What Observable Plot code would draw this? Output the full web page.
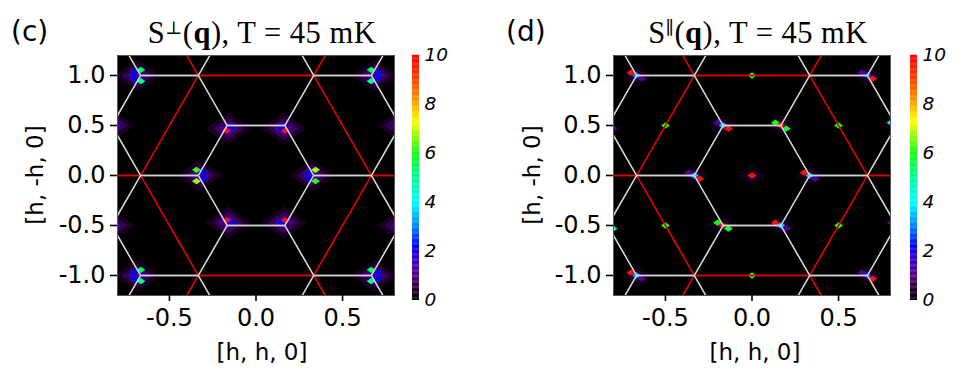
<!DOCTYPE html>
<html><head><meta charset="utf-8">
<script src="https://cdn.jsdelivr.net/npm/d3@7"></script>
<script src="https://cdn.jsdelivr.net/npm/@observablehq/plot@0.6"></script>
<style>
body{margin:0;background:#fff;}
#fig{position:relative;width:973px;height:386px;overflow:hidden;}
#fig > *{position:absolute;}
</style></head>
<body><div id="fig"></div>
<script>
// ---------- data ----------
const xTicks = [-0.5, 0, 0.5];
const yTicks = [-1, -0.5, 0, 0.5, 1];
const cbTicks = [0, 2, 4, 6, 8, 10];

// colour map stops (value -> colour)
const cmapStops  = [0, 0.5, 1, 1.6, 2.2, 3, 4, 5, 6, 6.8, 7.3, 8.2, 9, 10];
const cmapColors = ["#000000","#2a0035","#5a0080","#3c00c8","#0000ff","#0080ff","#00ffff","#00ff90","#10ff10","#a0ff00","#ffff00","#ff9000","#ff4000","#ff0000"];

// Brillouin-zone honeycombs
const smallHexCx = [0, 0, 0, -0.5, 0.5, -0.5, 0.5, -0.5, 0.5, -0.5, 0.5, -1, 1, -1, 1, -1, 1];
const smallHexCy = [0, 1, -1, 0.5, 0.5, -0.5, -0.5, 1.5, 1.5, -1.5, -1.5, 0, 0, 1, 1, -1, -1];
const smallHexDx = [1/3, 1/6, -1/6, -1/3, -1/6, 1/6];
const smallHexDy = [0, 0.5, 0.5, 0, -0.5, -0.5];
const largeHexCx = [0, 1, -1, 1, -1, 0, 0];
const largeHexCy = [0, 1, 1, -1, -1, 2, -2];
const largeHexDx = [2/3, 1/3, -1/3, -2/3, -1/3, 1/3];
const largeHexDy = [0, 1, 1, 0, -1, -1];

// panel (c): S_perp(q) peaks
const cH = [-0.665,-0.705,-0.705,-0.665, 0.665,0.705,0.705,0.665, -0.665,-0.705,-0.705,-0.665, 0.665,0.705,0.705,0.665,
            -0.344,-0.306,-0.306,-0.344, 0.344,0.306,0.306,0.344,
            -0.144,-0.17,0.144,0.17, -0.144,-0.17,0.144,0.17];
const cK = [1.057,1.033,0.967,0.943, 1.057,1.033,0.967,0.943, -0.943,-0.967,-1.033,-1.057, -0.943,-0.967,-1.033,-1.057,
            0.057,0.033,-0.033,-0.057, 0.057,0.033,-0.033,-0.057,
            0.477,0.448,0.477,0.448, -0.477,-0.448,-0.477,-0.448];
const cI = [5.4,2.2,2.2,5.0, 5.4,2.2,2.2,5.0, 5.4,2.2,2.2,5.0, 5.4,2.2,2.2,5.0,
            6.2,2.2,2.2,6.8, 6.8,2.2,2.2,6.2,
            2.2,9.8,2.2,9.8, 2.2,9.8,2.2,9.8];
// diffuse halos (c)
const cHaloH = [-0.16,0.16,-0.16,0.16,-0.325,0.325,-0.685,0.685,-0.685,0.685,-0.833,0.833,-0.833,0.833];
const cHaloK = [0.47,0.47,-0.47,-0.47,0,0,1,1,-1,-1,0.5,0.5,-0.5,-0.5];

// panel (d): S_par(q) peaks
const dH = [-0.699,-0.667,-0.636, 0.635,0.667,0.698, -0.699,-0.667,-0.636, 0.635,0.667,0.698,
            -0.365,-0.333,-0.302, 0.301,0.333,0.364,
            -0.199,-0.167,-0.136, 0.135,0.167,0.198, -0.199,-0.167,-0.136, 0.135,0.167,0.198,
            0, 0, 0, -0.5, 0.5, -0.5, 0.5,
            -0.803,-0.803,0.803,0.803];
const dK = [1.028,1.0,0.968, 1.028,1.0,0.968, -0.972,-1.0,-1.032, -0.972,-1.0,-1.032,
            0.028,0,-0.032, 0.028,0,-0.032,
            0.528,0.5,0.468, 0.528,0.5,0.468, -0.472,-0.5,-0.532, -0.472,-0.5,-0.532,
            0, 1, -1, 0.5, 0.5, -0.5, -0.5,
            0.472,-0.532,0.528,-0.472];
const dI = [9.8,3.0,1.2, 1.2,2.6,9.8, 9.8,3.2,1.2, 1.2,2.6,9.8,
            1.2,3.4,9.8, 9.8,3.4,1.2,
            1.2,3.4,9.8, 6.0,9.8,5.8, 6.0,9.8,5.8, 9.8,3.4,1.2,
            9.8, 5.8, 5.8, 6.0, 6.0, 6.0, 6.0,
            1.2,4.2,4.2,1.2];
const dHaloH = [-0.667,0.667,-0.667,0.667,-0.333,0.333,-0.167,0.167,-0.167,0.167,0];
const dHaloK = [1,1,-1,-1,0,0,0.5,0.5,-0.5,-0.5,0];

// ---------- helpers ----------
const hexLines = (cx, cy, dx, dy) => cx.flatMap((x0, i) =>
  [...dx, dx[0]].map((d, j) => ({id: i, x: x0 + d, y: cy[i] + [...dy, dy[0]][j]})));
const smallHex = hexLines(smallHexCx, smallHexCy, smallHexDx, smallHexDy);
const largeHex = hexLines(largeHexCx, largeHexCy, largeHexDx, largeHexDy);
const zip = (h, k, v) => h.map((x, i) => ({h: x, k: k[i], v: v ? v[i] : 0}));

const spot = {draw(ctx, size) {
  const s = Math.sqrt(size / Math.PI);
  ctx.moveTo(-s * 1.2, 0); ctx.lineTo(0, -s * 0.85); ctx.lineTo(s * 1.2, 0); ctx.lineTo(0, s * 0.85); ctx.closePath();
}};
const colorScale = {type: "linear", domain: cmapStops, range: cmapColors, interpolate: "rgb"};
const fmt = d => d.toFixed(1);
const fontFam = "'DejaVu Sans', 'Liberation Sans', sans-serif";

function panel(spots, halos, haloStrength, marginLeft, marginRight) {
  const haloMarks = haloStrength.map(([r, v, op]) =>
    Plot.dot(halos, {x: "h", y: "k", r, fill: () => v, fillOpacity: op, symbol: spot, clip: true}));
  return Plot.plot({
    width: marginLeft + 277 + marginRight, height: 386,
    marginLeft, marginRight, marginTop: 55, marginBottom: 91,
    x: {domain: [-0.8, 0.8]},
    y: {domain: [-1.2, 1.2]},
    color: colorScale,
    style: {fontFamily: fontFam, fontSize: "24px", color: "#000", background: "transparent"},
    marks: [
      Plot.frame({fill: "#000"}),
      ...haloMarks,
      Plot.dot(spots, {x: "h", y: "k", r: 3.7, fill: "v", symbol: spot, clip: true}),
      Plot.line(largeHex, {x: "x", y: "y", z: "id", stroke: "#e00000", strokeWidth: 1.4, clip: true}),
      Plot.line(smallHex, {x: "x", y: "y", z: "id", stroke: "#d2d2d2", strokeWidth: 1.3, clip: true}),
      Plot.frame({stroke: "#555", strokeWidth: 1}),
      Plot.axisX(xTicks, {tickSize: 6, tickPadding: 7, tickFormat: fmt, strokeWidth: 1.6, fontSize: 24, label: null}),
      Plot.axisY(yTicks, {tickSize: 7, tickPadding: 5, tickFormat: fmt, strokeWidth: 1.6, fontSize: 24, label: null})
    ]
  });
}

function colorbar() {
  const step = 0.05;
  const ramp = d3.range(0, 10, step);
  return Plot.plot({
    width: 60, height: 273, marginLeft: 0, marginRight: 53, marginTop: 12, marginBottom: 16,
    x: {domain: [0, 1], axis: null},
    y: {domain: [0, 10], axis: null},
    color: colorScale,
    style: {fontFamily: fontFam, background: "transparent"},
    marks: [
      Plot.rect(ramp, {x1: 0, x2: 1, y1: d => d, y2: d => d + step + 0.01, fill: d => d + step / 2}),
      Plot.text(cbTicks, {x: 1, y: d => d, text: d => String(d), dx: 5, textAnchor: "start", fontSize: 18.5, fontStyle: "italic", fill: "#000"})
    ]
  });
}

const fig = document.getElementById("fig");
const pc = panel(zip(cH, cK, cI), zip(cHaloH, cHaloK), [[19, 0.8, 0.35], [13, 1.1, 0.5], [8, 1.5, 0.65]], 117, 97);
pc.style.left = "0px"; pc.style.top = "0px";
fig.appendChild(pc);
const pd = panel(zip(dH, dK, dI), zip(dHaloH, dHaloK), [[13, 0.6, 0.25], [8, 0.9, 0.3]], 123, 82);
pd.style.left = "490px"; pd.style.top = "0px";
fig.appendChild(pd);
const cb1 = colorbar(); cb1.style.left = "412px"; cb1.style.top = "43px"; fig.appendChild(cb1);
const cb2 = colorbar(); cb2.style.left = "910px"; cb2.style.top = "43px"; fig.appendChild(cb2);

// text overlay (panel letters, titles, axis labels)
const svg = d3.select(fig).append("svg").attr("width", 973).attr("height", 386)
  .style("left", "0px").style("top", "0px").style("pointer-events", "none");
const sans = fontFam, serif = "'Liberation Serif', 'DejaVu Serif', serif";
svg.append("text").attr("x", 11).attr("y", 41).attr("font-family", sans).attr("font-size", 28).text("(c)");
svg.append("text").attr("x", 506).attr("y", 41).attr("font-family", sans).attr("font-size", 28).text("(d)");
function title(x, sym) {
  const t = svg.append("text").attr("x", x).attr("y", 43).attr("text-anchor", "middle")
    .attr("font-family", serif).attr("font-size", 30.5).attr("letter-spacing", 0.5);
  t.append("tspan").text("S");
  t.append("tspan").attr("font-size", 18).attr("dy", -9).text(sym);
  t.append("tspan").attr("dy", 9).text("(");
  t.append("tspan").attr("font-weight", "bold").text("q");
  t.append("tspan").text("), T = 45 mK");
}
title(262, "\u22A5");
title(758, "\u2225");
[[262], [755]].forEach(([x]) =>
  svg.append("text").attr("x", x).attr("y", 360).attr("text-anchor", "middle").attr("font-family", sans).attr("font-size", 23).text("[h, h, 0]"));
[[43], [540]].forEach(([x]) =>
  svg.append("text").attr("transform", `translate(${x},175) rotate(-90)`).attr("text-anchor", "middle")
    .attr("font-family", sans).attr("font-size", 23).text("[h, -h, 0]"));
</script>
</body></html>
